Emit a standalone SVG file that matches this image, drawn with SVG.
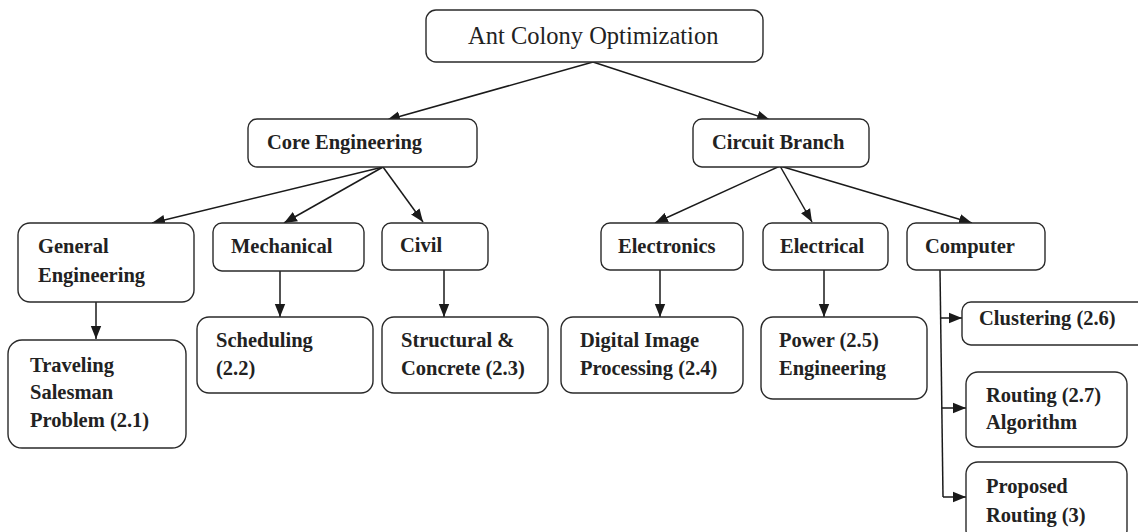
<svg xmlns="http://www.w3.org/2000/svg" width="1138" height="532" viewBox="0 0 1138 532">
<defs>
<style>
.box{fill:#fff;stroke:#2a2a2a;stroke-width:1.4}
.t{font-family:"Liberation Serif","Times New Roman",serif;font-size:20.5px;font-weight:bold;fill:#222}
.title{font-family:"Liberation Serif","Times New Roman",serif;font-size:24.5px;fill:#222}
.c{fill:none;stroke:#1a1a1a;stroke-width:1.5;marker-end:url(#ah)}
.n{fill:none;stroke:#1a1a1a;stroke-width:1.5}
</style>
<marker id="ah" markerUnits="userSpaceOnUse" markerWidth="14" markerHeight="12" refX="13" refY="6" orient="auto">
<path d="M0,0.8 L13,6 L0,11.2 z" fill="#1a1a1a"/>
</marker>
</defs>
<rect width="1138" height="532" fill="#fff"/>
<g id="connectors">
<path class="c" d="M593,62 L387,120"/>
<path class="c" d="M593,62 L770,120"/>
<path class="c" d="M383,167 L152,223"/>
<path class="c" d="M383,167 L284,223"/>
<path class="c" d="M383,167 L423,222"/>
<path class="c" d="M780,166 L655,223"/>
<path class="c" d="M780,166 L812,222"/>
<path class="c" d="M780,166 L972,223"/>
<path class="c" d="M96,302 L96,339"/>
<path class="c" d="M280,271 L280,317"/>
<path class="c" d="M444,270 L444,317"/>
<path class="c" d="M660,270 L660,317"/>
<path class="c" d="M824,270 L824,317"/>
<path class="n" d="M940,270 L943,497"/>
<path class="c" d="M940.5,318 L962,318"/>
<path class="c" d="M942,408 L966,408"/>
<path class="c" d="M943,497 L966,497"/>
</g>
<g id="aco"><rect class="box" x="426" y="10" width="337" height="52" rx="10"/><text class="title" x="468" y="44">Ant Colony Optimization</text></g>
<g id="core"><rect class="box" x="248" y="119" width="229" height="48" rx="9"/><text class="t" x="267" y="149">Core Engineering</text></g>
<g id="circuit"><rect class="box" x="693" y="119" width="176" height="48" rx="9"/><text class="t" x="712" y="149">Circuit Branch</text></g>
<g id="general"><rect class="box" x="18" y="223" width="176" height="79" rx="12"/><text class="t" x="38" y="253">General</text><text class="t" x="38" y="282">Engineering</text></g>
<g id="mechanical"><rect class="box" x="213" y="223" width="151" height="48" rx="9"/><text class="t" x="231" y="253">Mechanical</text></g>
<g id="civil"><rect class="box" x="382" y="223" width="106" height="47" rx="9"/><text class="t" x="400" y="252">Civil</text></g>
<g id="electronics"><rect class="box" x="601" y="223" width="142" height="47" rx="9"/><text class="t" x="618" y="253">Electronics</text></g>
<g id="electrical"><rect class="box" x="763" y="223" width="125" height="47" rx="9"/><text class="t" x="780" y="253">Electrical</text></g>
<g id="computer"><rect class="box" x="907" y="223" width="138" height="47" rx="9"/><text class="t" x="925" y="253">Computer</text></g>
<g id="tsp"><rect class="box" x="8" y="340" width="178" height="108" rx="14"/><text class="t" x="30" y="372">Traveling</text><text class="t" x="30" y="399">Salesman</text><text class="t" x="30" y="427">Problem (2.1)</text></g>
<g id="scheduling"><rect class="box" x="197" y="317" width="176" height="76" rx="12"/><text class="t" x="216" y="347">Scheduling</text><text class="t" x="216" y="375">(2.2)</text></g>
<g id="structural"><rect class="box" x="382" y="317" width="166" height="76" rx="12"/><text class="t" x="401" y="347">Structural &amp;</text><text class="t" x="401" y="375">Concrete (2.3)</text></g>
<g id="digital"><rect class="box" x="561" y="317" width="182" height="76" rx="12"/><text class="t" x="580" y="347">Digital Image</text><text class="t" x="580" y="375">Processing (2.4)</text></g>
<g id="power"><rect class="box" x="761" y="317" width="166" height="82" rx="12"/><text class="t" x="779" y="347">Power (2.5)</text><text class="t" x="779" y="375">Engineering</text></g>
<g id="clustering"><rect class="box" x="962" y="302" width="190" height="43" rx="9"/><text class="t" x="979" y="325">Clustering (2.6)</text></g>
<g id="routing"><rect class="box" x="966" y="372" width="161" height="75" rx="12"/><text class="t" x="986" y="402">Routing (2.7)</text><text class="t" x="986" y="429">Algorithm</text></g>
<g id="proposed"><rect class="box" x="966" y="462" width="161" height="80" rx="12"/><text class="t" x="986" y="493">Proposed</text><text class="t" x="986" y="522">Routing (3)</text></g>
</svg>
